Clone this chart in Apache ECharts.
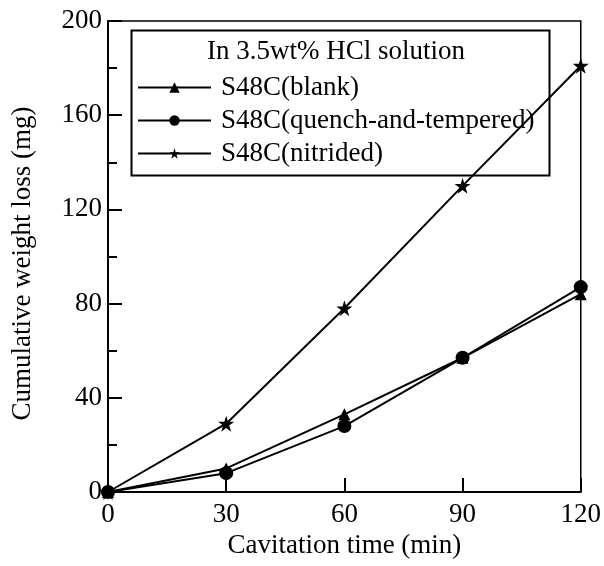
<!DOCTYPE html>
<html>
<head>
<meta charset="utf-8">
<script src="https://cdn.jsdelivr.net/npm/echarts@6/dist/echarts.min.js"></script>
<style>html,body{margin:0;padding:0;background:#fff}#c{width:604px;height:566px}</style>
</head>
<body>
<div id="c"></div>
<script>
var times = [0, 30, 60, 90, 120];
var blank = [0, 10, 33, 57, 84];
var quench = [0, 8, 28, 57, 87];
var nitrided = [0, 29, 78, 130, 181];
var seriesNames = ['S48C(blank)', 'S48C(quench-and-tempered)', 'S48C(nitrided)'];
var legendTitle = 'In 3.5wt% HCl solution';
var xTitle = 'Cavitation time (min)';
var yTitle = 'Cumulative weight loss (mg)';

var starPath = 'path://M100 0 L122.45 69.1 L195.1 69.1 L136.3 111.8 L158.8 180.9 L100 138.2 L41.2 180.9 L63.7 111.8 L4.9 69.1 L77.55 69.1 Z';
var font = 'Liberation Serif';
var fs = 27;

function pairs(vals){ return times.map(function(t,i){ return [t, vals[i]]; }); }
function mk(name, vals, symbol, size){
  return {
    name: name, type: 'line', data: pairs(vals),
    symbol: symbol, symbolSize: size, showSymbol: true,
    lineStyle: {color: '#000', width: 2},
    itemStyle: {color: '#000'},
    emphasis: {disabled: true},
    animation: false
  };
}

var chart = echarts.init(document.getElementById('c'));
chart.setOption({
  backgroundColor: '#fff',
  animation: false,
  grid: {left: 108, right: 21, top: 21, bottom: 74, show: true, borderColor: '#000', borderWidth: 1.5, backgroundColor: 'transparent'},
  xAxis: {
    type: 'value', min: 0, max: 120, interval: 30,
    name: xTitle, nameLocation: 'middle', nameGap: 40,
    nameTextStyle: {fontFamily: font, fontSize: fs, color: '#000'},
    axisLine: {lineStyle: {color: '#000', width: 2}},
    axisTick: {inside: true, length: 14, lineStyle: {color: '#000', width: 2}},
    axisLabel: {fontFamily: font, fontSize: fs, color: '#000', margin: 9},
    splitLine: {show: false}
  },
  yAxis: {
    type: 'value', min: 0, max: 200, interval: 40,
    name: yTitle, nameLocation: 'middle', nameGap: 72,
    nameTextStyle: {fontFamily: font, fontSize: fs, color: '#000', padding: [0, 14, 0, 0]},
    axisLine: {lineStyle: {color: '#000', width: 2}},
    axisTick: {inside: true, length: 14, lineStyle: {color: '#000', width: 2}},
    minorTick: {show: true, splitNumber: 2, length: 9, lineStyle: {color: '#000', width: 2}},
    axisLabel: {fontFamily: font, fontSize: fs, color: '#000', margin: 6},
    splitLine: {show: false}
  },
  legend: {
    orient: 'vertical', left: 137, top: 74, itemGap: 6, padding: 0,
    itemWidth: 73, itemHeight: 13,
    textStyle: {fontFamily: font, fontSize: fs, color: '#000', padding: [0, 0, 0, 5]},
    data: seriesNames,
    selectedMode: false
  },
  graphic: [
    {type: 'rect', left: 129, top: 28, shape: {width: 418, height: 145}, style: {fill: 'none', stroke: '#000', lineWidth: 2}, z: 1},
    {type: 'text', left: 207, top: 38, style: {text: legendTitle, font: fs + 'px "Liberation Serif"', fill: '#000'}, z: 2}
  ],
  series: [
    mk(seriesNames[0], blank, 'triangle', 12),
    mk(seriesNames[1], quench, 'circle', 14),
    mk(seriesNames[2], nitrided, starPath, 16)
  ]
});
</script>
</body>
</html>
